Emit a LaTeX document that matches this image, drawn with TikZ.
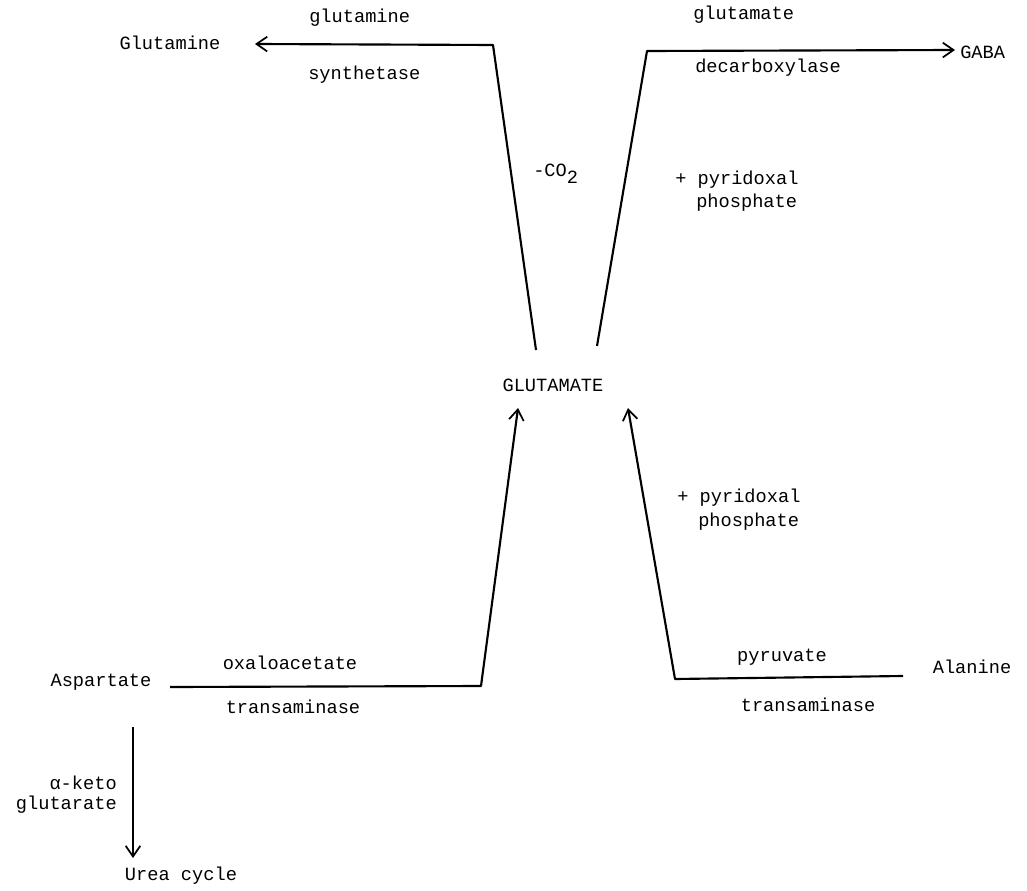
\documentclass[tikz,border=0pt]{standalone}
\usepackage{fontspec}
\setmonofont{Liberation Mono}
\usetikzlibrary{arrows.meta}
\begin{document}
\begin{tikzpicture}[x=0.75pt,y=-0.75pt,
  lbl/.style={font=\ttfamily\fontsize{14}{17}\selectfont, inner sep=0pt},
  flow/.style={line width=1.6pt, line join=round},
  arr/.style={flow, -{Straight Barb[length=8pt,width=11pt,line width=1.3pt]}}]
\useasboundingbox (0,0) rectangle (1027,891);

% compounds
\node[lbl] (gln) at (170,43) {Glutamine};
\node[lbl, anchor=west] (gaba) at (960,52) {GABA};
\node[lbl] (glu) at (553,385) {GLUTAMATE};
\node[lbl] (asp) at (101,682) {Aspartate};
\node[lbl] (ala) at (972,667) {Alanine};
\node[lbl] (urea) at (181,876) {Urea cycle};

% enzyme labels
\node[lbl, anchor=west] (gs1) at (309,18) {glutamine};
\node[lbl, anchor=west] (gs2) at (308,75) {synthetase};
\node[lbl, anchor=west] (gad1) at (693,15) {glutamate};
\node[lbl, anchor=west] (gad2) at (695,68) {decarboxylase};
\node[lbl, anchor=base west] (co2) at (533,177) {-CO\raisebox{-0.7ex}{2}};
\node[lbl, anchor=west] (pp1a) at (675,180) {+ pyridoxal};
\node[lbl, anchor=west] (pp1b) at (696,203) {phosphate};
\node[lbl, anchor=west] (pp2a) at (677,498) {+ pyridoxal};
\node[lbl, anchor=west] (pp2b) at (698,522) {phosphate};
\node[lbl] (oaa) at (290,663) {oxaloacetate};
\node[lbl] (ast) at (293,707) {transaminase};
\node[lbl] (pyr) at (782,657) {pyruvate};
\node[lbl] (alt) at (808,705) {transaminase};
\node[lbl, anchor=east] (ak1) at (117,783) {α-keto};
\node[lbl, anchor=east] (ak2) at (117,805) {glutarate};

% path points
\coordinate (gluTL) at (536,350);
\coordinate (glnC) at (493,45);
\coordinate (glnT) at (255,44);
\coordinate (gluTR) at (597,346);
\coordinate (gabaC) at (647,51);
\coordinate (gabaT) at (955,50);
\coordinate (aspS) at (170,687);
\coordinate (aspC) at (481,686);
\coordinate (gluBL) at (518,408);
\coordinate (alaS) at (903,676);
\coordinate (alaC) at (675,679);
\coordinate (gluBR) at (628,408);
\coordinate (ureaS) at (133,727);
\coordinate (ureaT) at (133,858);

% connectors
\draw[arr] (gluTL) -- (glnC) -- (glnT);
\draw[arr] (gluTR) -- (gabaC) -- (gabaT);
\draw[arr] (aspS) -- (aspC) -- (gluBL);
\draw[arr] (alaS) -- (alaC) -- (gluBR);
\draw[arr] (ureaS) -- (ureaT);
\end{tikzpicture}
\end{document}
